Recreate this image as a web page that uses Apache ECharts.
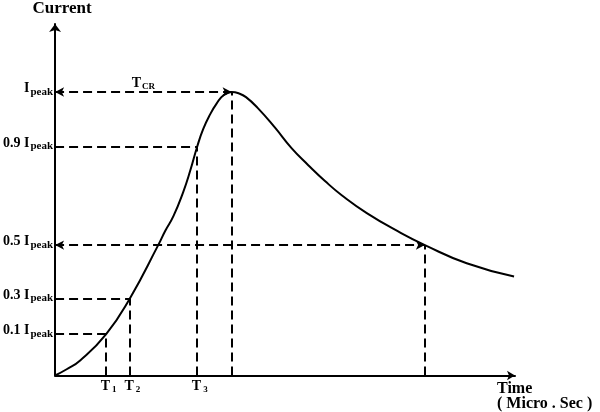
<!DOCTYPE html>
<html>
<head>
<meta charset="utf-8">
<script src="https://cdn.jsdelivr.net/npm/echarts@6/dist/echarts.min.js"></script>
<style>
html,body{margin:0;padding:0;background:#fff;}
#chart{width:600px;height:412px;}
</style>
</head>
<body>
<div id="chart"></div>
<script>
// Curve samples (time in arbitrary micro-second units, current in drawing units; Ipeak = 100)
var curveTime    = [0, 2.5, 5.4, 11.0, 16.1, 22.2, 23.7, 25.5, 27.6, 29.1, 30.6, 31.9, 33.4, 34.8, 36.2, 38.0, 39.6, 41.1, 43.6, 47.3, 50.9, 54.5, 58.1, 61.7, 67.1, 74.3, 79.6, 88.6, 98.8];
var curveCurrent = [0, 2.2, 5.3, 14.6, 27.2, 46.0, 51.0, 56.3, 64.8, 72.3, 80.8, 87.0, 92.2, 96.0, 98.8, 100, 99.5, 98.2, 94.4, 87.5, 80.2, 74.2, 68.6, 63.6, 57.3, 50.4, 46.0, 39.6, 34.9];

// Current levels shown on the vertical axis
var levelValues = [14.6, 27.2, 46.0, 80.8, 100];
var levelFactors = ['0.1 ', '0.3 ', '0.5 ', '0.9 ', ''];

// Characteristic times
var timeValues = [11.0, 16.1, 30.6];
var timeSubs = ['1', '2', '3'];
var peakTime = 38.0;
var halfFallTime = 79.6;
var peakLevel = 100;
var halfLevel = 46.0;
var ninetyLevel = 80.8;
var thirtyLevel = 27.2;
var tenLevel = 14.6;

var FONT = 'Liberation Serif';
var dash = { color: '#000', width: 2, type: [9, 5] };

function hLine(y, x, arrows, label) {
  var a = { coord: [0, y], symbol: arrows ? 'arrow' : 'none' };
  var b = { coord: [x, y], symbol: arrows ? 'arrow' : 'none' };
  a.label = label ? label : { show: false };
  return [a, b];
}
function vLine(x, y) {
  return [{ coord: [x, 0], symbol: 'none', label: { show: false } }, { coord: [x, y], symbol: 'none' }];
}

var curveData = curveTime.map(function (t, i) { return [t, curveCurrent[i]]; });

var chart = echarts.init(document.getElementById('chart'), null, { renderer: 'canvas' });
chart.setOption({
  animation: false,
  backgroundColor: '#fff',
  grid: { left: 55, right: 85, top: 21, bottom: 35 },
  xAxis: {
    type: 'value', min: 0, max: 99,
    axisLine: { show: true, onZero: false, symbol: ['none', 'arrow'], symbolSize: [7, 8], lineStyle: { color: '#000', width: 2 } },
    axisTick: { show: false },
    splitLine: { show: false },
    axisLabel: {
      show: true, customValues: timeValues, margin: 4, padding: [0, 0, 0, 5],
      formatter: function (v) {
        var k = timeValues.indexOf(v);
        return '{m|T}{s|' + timeSubs[k] + '}';
      },
      rich: {
        m: { fontFamily: FONT, fontWeight: 'bold', fontSize: 14, color: '#000', lineHeight: 15, verticalAlign: 'top' },
        s: { fontFamily: FONT, fontWeight: 'bold', fontSize: 9, color: '#000', lineHeight: 9, padding: [6, 0, 0, 2], verticalAlign: 'top' }
      }
    },
    name: 'Time\n( Micro . Sec )',
    nameLocation: 'end',
    nameGap: -18,
    nameTextStyle: { fontFamily: FONT, fontWeight: 'bold', fontSize: 16, color: '#000', align: 'left', verticalAlign: 'top', lineHeight: 15, padding: [6, 0, 0, 0] }
  },
  yAxis: {
    type: 'value', min: 0, max: 124,
    axisLine: { show: true, onZero: false, symbol: ['none', 'arrow'], symbolSize: [9, 8], lineStyle: { color: '#000', width: 2 } },
    axisTick: { show: false },
    splitLine: { show: false },
    axisLabel: {
      show: true, customValues: levelValues, margin: 2, padding: [0, 0, 6, 0],
      formatter: function (v) {
        var k = levelValues.indexOf(v);
        return '{m|' + levelFactors[k] + 'I}{s|peak}';
      },
      rich: {
        m: { fontFamily: FONT, fontWeight: 'bold', fontSize: 14, color: '#000', lineHeight: 15, verticalAlign: 'top' },
        s: { fontFamily: FONT, fontWeight: 'bold', fontSize: 11, color: '#000', lineHeight: 10, padding: [5, 0, 0, 1], verticalAlign: 'top' }
      }
    },
    name: 'Current',
    nameLocation: 'end',
    nameGap: 7,
    nameTextStyle: { fontFamily: FONT, fontWeight: 'bold', fontSize: 17, color: '#000', padding: [0, 0, 0, 14] }
  },
  series: [{
    type: 'line',
    data: curveData,
    showSymbol: false,
    smooth: 0.5,
    lineStyle: { color: '#000', width: 2 },
    markLine: {
      silent: true,
      symbol: ['none', 'none'],
      symbolSize: [7, 9],
      lineStyle: dash,
      itemStyle: { color: '#000' },
      label: { show: false },
      data: [
        hLine(peakLevel, peakTime, true, {
          show: true, position: 'insideMiddleTop', distance: 1,
          formatter: '{m|T}{s|CR}',
          rich: {
            m: { fontFamily: FONT, fontWeight: 'bold', fontSize: 14, color: '#000', lineHeight: 15, verticalAlign: 'top' },
            s: { fontFamily: FONT, fontWeight: 'bold', fontSize: 9, color: '#000', lineHeight: 9, padding: [6, 0, 0, 1], verticalAlign: 'top' }
          }
        }),
        hLine(ninetyLevel, timeValues[2], false),
        hLine(halfLevel, halfFallTime, true),
        hLine(thirtyLevel, timeValues[1], false),
        hLine(tenLevel, timeValues[0], false),
        vLine(timeValues[0], tenLevel),
        vLine(timeValues[1], thirtyLevel),
        vLine(timeValues[2], ninetyLevel),
        vLine(peakTime, peakLevel),
        vLine(halfFallTime, halfLevel)
      ]
    }
  }]
});
</script>
</body>
</html>
